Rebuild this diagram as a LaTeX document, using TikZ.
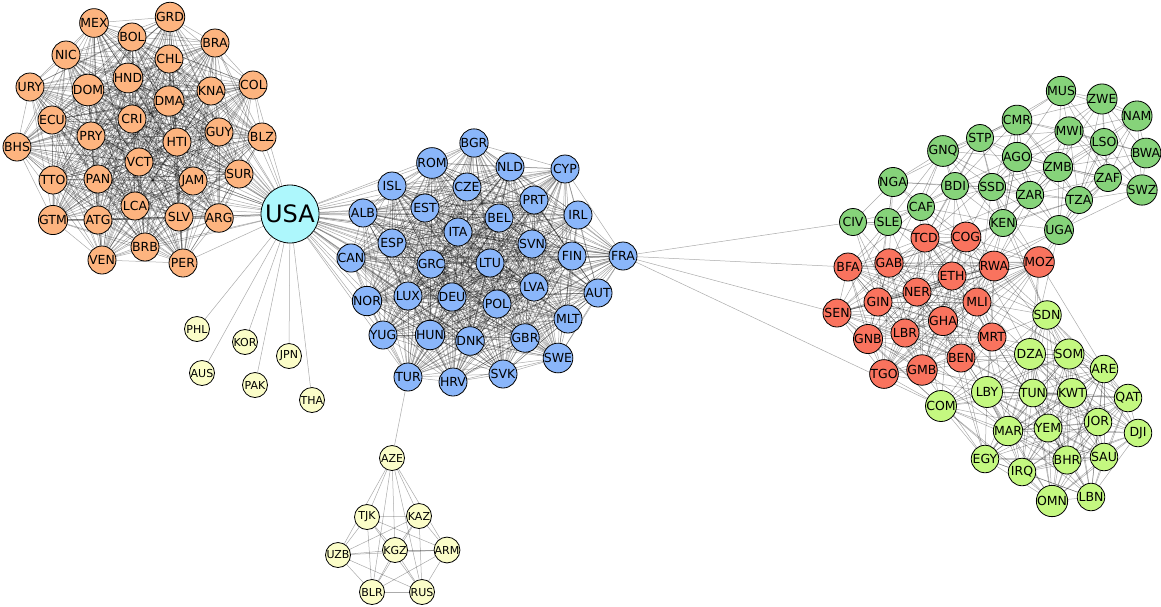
\documentclass[tikz,border=0pt]{standalone}
\usepackage{fontspec}
\setmainfont{DejaVu Sans}
\usetikzlibrary{backgrounds}
\definecolor{corange}{HTML}{FDB47F}
\definecolor{cblue}{HTML}{8AB6FA}
\definecolor{ccyan}{HTML}{ADF7FC}
\definecolor{cgreen}{HTML}{86D37A}
\definecolor{cred}{HTML}{F9735E}
\definecolor{clime}{HTML}{C4F880}
\definecolor{cyel}{HTML}{FBFDC8}
\tikzset{
  cnode/.style={circle, draw=black, line width=0.8pt, inner sep=0pt, minimum size=28pt,
    font=\fontsize{12.5}{13}\selectfont, text=black},
  ora/.style={cnode, fill=corange},
  blu/.style={cnode, fill=cblue},
  grn/.style={cnode, fill=cgreen, minimum size=27pt},
  rdn/.style={cnode, fill=cred, minimum size=28pt},
  lim/.style={cnode, fill=clime, minimum size=27.5pt},
  big/.style={minimum size=31pt},
  yel/.style={cnode, fill=cyel, minimum size=25pt, font=\fontsize{11}{12}\selectfont},
  usa/.style={cnode, fill=ccyan, minimum size=58pt, font=\fontsize{24}{26}\selectfont},
  edge/.style={draw=black, opacity=0.33, line width=0.5pt},
}
\def\orangelist{MEX,GRD,BOL,BRA,NIC,CHL,URY,HND,DOM,KNA,COL,DMA,ECU,CRI,GUY,BLZ,BHS,PRY,HTI,VCT,TTO,PAN,JAM,SUR,LCA,GTM,ATG,SLV,ARG,BRB,VEN,PER}
\def\bluelist{BGR,ROM,NLD,CYP,ISL,CZE,PRT,ALB,EST,BEL,IRL,ITA,ESP,SVN,FIN,FRA,CAN,GRC,LTU,LVA,AUT,NOR,LUX,DEU,POL,MLT,YUG,HUN,DNK,GBR,SWE,TUR,HRV,SVK}
\def\greenlist{MUS,ZWE,NAM,CMR,MWI,LSO,STP,GNQ,AGO,BWA,ZMB,ZAF,SWZ,NGA,BDI,SSD,ZAR,TZA,CAF,CIV,SLE,KEN,UGA}
\def\redlist{TCD,COG,BFA,GAB,RWA,MOZ,ETH,GIN,NER,MLI,SEN,GHA,GNB,LBR,MRT,BEN,TGO,GMB}
\def\arablist{SDN,DZA,SOM,ARE,LBY,TUN,KWT,QAT,COM,JOR,DJI,MAR,YEM,EGY,BHR,SAU,IRQ,OMN,LBN}
\def\asialist{AZE,TJK,KAZ,UZB,KGZ,ARM,BLR,RUS}
% #1 list A, #2 list B, #3 distance threshold, #4 hash modulus, #5 same-list flag
\newcommand\linkclose[5]{%
  \foreach \a [count=\i] in #1 {%
    \foreach \b [count=\j] in #2 {%
      \pgfpointdiff{\pgfpointanchor{\a}{center}}{\pgfpointanchor{\b}{center}}%
      \pgfgetlastxy{\dx}{\dy}%
      \pgfmathtruncatemacro\ok{and(veclen(\dx,\dy)<#3,veclen(\dx,\dy)>0.5)*(mod(\i*7+\j*11,#4)==0)*or(#5==0,\j>\i)}%
      \ifnum\ok=1 \draw[edge] (\a) -- (\b);\fi
    }}}
\newcommand\fullgraph[1]{%
  \foreach \a [count=\i] in #1 {%
    \foreach \b [count=\j] in #1 {%
      \ifnum\j>\i \draw[edge] (\a) -- (\b);\fi
    }}}
\begin{document}
\begin{tikzpicture}[x=1pt,y=-1pt]
\useasboundingbox (0,0) rectangle (1161,606);
% nodes
\node[usa] (USA) at (290,214) {USA};
\foreach \n/\x/\y in {MEX/94/23, GRD/170/17, BOL/132/37, BRA/215/43, NIC/66/55, CHL/169/59, URY/30/87, HND/128/78, DOM/88/90, KNA/211/91, COL/253/85, DMA/169/101, ECU/52/120, CRI/132/119, GUY/219/132, BLZ/262/137, BHS/17/147, PRY/91/136, HTI/177/142, VCT/139/162, TTO/53/180, PAN/98/179, JAM/193/181, SUR/239/174, LCA/135/206, GTM/53/220, ATG/98/220, SLV/179/217, ARG/219/218, BRB/145/247, VEN/102/260, PER/183/263}
  \node[ora] (\n) at (\x,\y) {\n};
\foreach \n/\x/\y in {BGR/474/143, ROM/432/163, NLD/510/167, CYP/565/169, ISL/392/186, CZE/467/187, PRT/534/200, ALB/363/213, EST/425/208, BEL/499/218, IRL/578/215, ITA/458/232, ESP/392/243, SVN/532/244, FIN/572/256, FRA/623/256, CAN/351/258, GRC/431/264, LTU/490/263, LVA/534/287, AUT/598/293, NOR/367/301, LUX/408/296, DEU/452/297, POL/497/304, MLT/568/319, YUG/383/335, HUN/430/335, DNK/470/341, GBR/525/338, SWE/558/358, TUR/408/377, HRV/453/382, SVK/503/374}
  \node[blu] (\n) at (\x,\y) {\n};
\foreach \n/\x/\y in {MUS/1061/91, ZWE/1102/99, NAM/1137/116, CMR/1017/120, MWI/1069/131, LSO/1104/142, STP/980/138, GNQ/943/151, AGO/1017/157, BWA/1146/153, ZMB/1058/167, ZAF/1108/178, SWZ/1142/190, NGA/893/182, BDI/955/186, SSD/992/187, ZAR/1030/195, TZA/1079/200, CAF/921/207, CIV/853/222, SLE/888/222, KEN/1003/223, UGA/1059/230}
  \node[grn] (\n) at (\x,\y) {\n};
\foreach \n/\x/\y in {TCD/925/238, COG/966/237, BFA/848/267, GAB/889/263, RWA/994/266, MOZ/1039/262, ETH/952/276, GIN/878/302, NER/917/292, MLI/977/302, SEN/837/313, GHA/943/321, GNB/868/339, LBR/905/333, MRT/992/337, BEN/961/358, TGO/884/374, GMB/922/370}
  \node[rdn] (\n) at (\x,\y) {\n};
\foreach \n/\x/\y in {SDN/1047/315, SOM/1069/354, ARE/1104/369, TUN/1033/393, KWT/1072/393, QAT/1128/398, JOR/1098/422, DJI/1138/433, MAR/1008/431, YEM/1048/428, EGY/985/459, BHR/1067/460, SAU/1104/457, IRQ/1022/472, OMN/1052/501, LBN/1091/497}
  \node[lim] (\n) at (\x,\y) {\n};
\foreach \n/\x/\y in {DZA/1030/354, LBY/987/392, COM/941/406}
  \node[lim,big] (\n) at (\x,\y) {\n};
\foreach \n/\x/\y in {PHL/197/329, KOR/245/342, AUS/202/373, JPN/289/356, PAK/255/385, THA/312/400, AZE/392/458, TJK/367/517, KAZ/419/516, UZB/338/555, KGZ/395/550, ARM/447/550, BLR/372/592, RUS/422/592}
  \node[yel] (\n) at (\x,\y) {\n};
% edges
\begin{pgfonlayer}{background}
\fill[white] (0,0) rectangle (1161,606);
\fullgraph{\orangelist}
\fullgraph{\bluelist}
\fullgraph{\asialist}
\foreach \n in \orangelist {\draw[edge] (USA) -- (\n);}
\foreach \n in \bluelist {\draw[edge] (USA) -- (\n);}
\foreach \n in {PHL,KOR,AUS,JPN,PAK,THA} {\draw[edge] (USA) -- (\n);}
\foreach \n in {CIV,BFA,SEN,COM} {\draw[edge] (FRA) -- (\n);}
\draw[edge] (TUR) -- (AZE);
\linkclose{\redlist}{\redlist}{230}{1}{1}
\linkclose{\arablist}{\arablist}{150}{1}{1}
\linkclose{\greenlist}{\greenlist}{105}{1}{1}
\linkclose{\redlist}{\greenlist}{125}{2}{0}
\linkclose{\redlist}{\arablist}{145}{2}{0}
\linkclose{\greenlist}{\arablist}{150}{3}{0}
\end{pgfonlayer}
\end{tikzpicture}
\end{document}
